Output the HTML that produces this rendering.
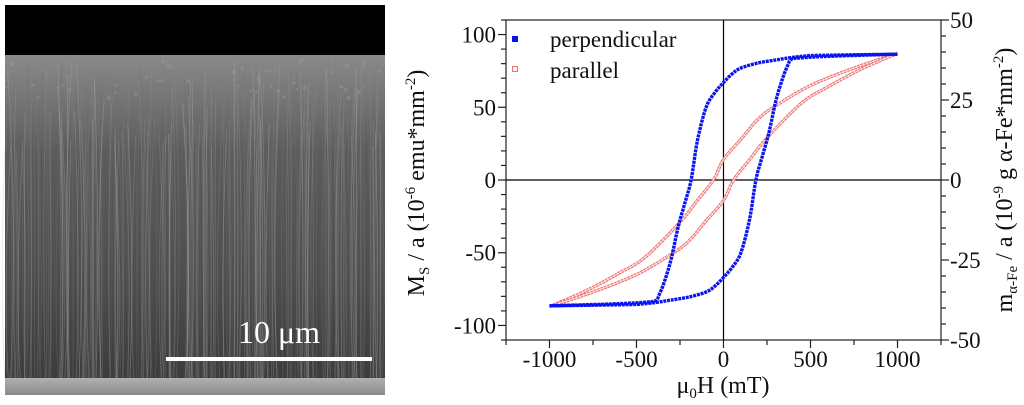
<!DOCTYPE html>
<html><head><meta charset="utf-8">
<style>
html,body{margin:0;padding:0;background:#fff;}
body{width:1024px;height:405px;overflow:hidden;position:relative;}
svg{position:absolute;left:0;top:0;}
text{font-family:"Liberation Serif",serif;fill:#111;}
</style></head>
<body>
<svg id="sem" width="1024" height="405" viewBox="0 0 1024 405">
  <defs>
    <linearGradient id="bodyGrad" x1="0" y1="0" x2="0" y2="1">
      <stop offset="0" stop-color="#8a8a8a"/>
      <stop offset="0.1" stop-color="#7a7a7a"/>
      <stop offset="0.3" stop-color="#5c5c5c"/>
      <stop offset="0.7" stop-color="#4e4e4e"/>
      <stop offset="1" stop-color="#3c3c3c"/>
    </linearGradient>
    <linearGradient id="subGrad" x1="0" y1="0" x2="0" y2="1">
      <stop offset="0" stop-color="#b0b0b0"/>
      <stop offset="1" stop-color="#8a8a8a"/>
    </linearGradient>
  </defs>
  <rect x="5" y="5" width="380" height="390" fill="#000"/>
  <rect x="5" y="55" width="380" height="323" fill="url(#bodyGrad)"/>
  <g id="fibers"></g>
  <rect x="5" y="378" width="380" height="17" fill="url(#subGrad)"/>
  <rect x="166" y="357" width="206" height="4" fill="#fff"/>
  <text x="279" y="343" text-anchor="middle" font-size="32" style="fill:#fff">10 μm</text>
</svg>

<svg id="chart" width="1024" height="405" viewBox="0 0 1024 405"></svg>

<script>
// ---- chart data ----
const xTicks = [-1000, -500, 0, 500, 1000];
const yLeftTicks = [-100, -50, 0, 50, 100];
const yRightTicks = [-50, -25, 0, 25, 50];
const perpH = [1000,700,500,380,300,200,100,50,0,-50,-100,-150,-186,-220,-260,-300,-340,-370,-390,-450,-600,-800,-1000];
const perpM = [86.5,86,85.5,84,82.5,80.5,77,73,67,60,50,27,0,-15,-32,-54,-70,-79,-83,-84,-85,-85.8,-86.5];
const parH = [1000,750,500,300,200,100,0,-58,-150,-250,-450,-600,-770,-900,-1000];
const parM = [87,77,65,51,42,28,14,0,-14,-29,-53,-64,-75,-82,-87];

// ---- SEM texture (decorative) ----
(function(){
  const g = document.getElementById('fibers');
  let s = 12345;
  function rnd(){ s = (s*1103515245 + 12345) % 2147483648; return s/2147483648; }
  let html = '';
  for (let i=0;i<260;i++){
    const x = 6 + rnd()*378;
    const y0 = 60 + rnd()*90;
    const dx = (rnd()-0.5)*20;
    const c = 110 + Math.floor(rnd()*70);
    const op = (0.2 + rnd()*0.3).toFixed(2);
    html += `<path d="M${x.toFixed(1)} ${y0.toFixed(1)} Q ${(x+dx).toFixed(1)} ${(y0+150).toFixed(1)} ${(x+dx*0.3).toFixed(1)} 378" stroke="rgb(${c},${c},${c})" stroke-opacity="${op}" stroke-width="0.8" fill="none"/>`;
  }
  for (let i=0;i<60;i++){
    const x = 6 + rnd()*378, y = 58 + rnd()*40;
    html += `<circle cx="${x.toFixed(1)}" cy="${y.toFixed(1)}" r="${(0.8+rnd()*1.5).toFixed(1)}" fill="#a0a0a0" fill-opacity="0.35"/>`;
  }
  g.innerHTML = html;
})();

// ---- chart drawing ----
const svg = document.getElementById('chart');
const NS = 'http://www.w3.org/2000/svg';
const L = 506, R = 941, T = 20, B = 340;
const sx = v => L + (v + 1250) / 2500 * (R - L);
const syL = v => T + (110 - v) / 220 * (B - T);
const syR = v => T + (50 - v) / 100 * (B - T);
function el(tag, attrs, parent){
  const e = document.createElementNS(NS, tag);
  for (const k in attrs) e.setAttribute(k, attrs[k]);
  (parent||svg).appendChild(e);
  return e;
}

const frame = el('rect', {x:L, y:T, width:R-L, height:B-T, fill:'none', stroke:'#222', 'stroke-width':1.2});



const zx = el('line', {x1:sx(0), x2:sx(0), y1:T, y2:B, stroke:'#000', 'stroke-width':1.2});


const zy = el('line', {x1:L, x2:R, y1:syL(0), y2:syL(0), stroke:'#000', 'stroke-width':1.2});



for (let v=-1250; v<=1250; v+=250){
  const major = xTicks.includes(v);
  el('line', {x1:sx(v), x2:sx(v), y1:B, y2:B+(major?8:5), stroke:'#222', 'stroke-width':1.2});
}
xTicks.forEach(v=>{
  const t = el('text', {x:sx(v), y:367, 'text-anchor':'middle', 'font-size':23});
  t.textContent = v;
  
  
});
for (let v=-110; v<=110; v+=10){
  const major = yLeftTicks.includes(v);
  el('line', {x1:L-(major?8:5), x2:L, y1:syL(v), y2:syL(v), stroke:'#222', 'stroke-width':1.2});
}
yLeftTicks.forEach(v=>{
  const t = el('text', {x:496, y:syL(v)+8, 'text-anchor':'end', 'font-size':23});
  t.textContent = v;
  
  
});
for (let v=-50; v<=50; v+=5){
  const major = yRightTicks.includes(v);
  el('line', {x1:R, x2:R+(major?8:5), y1:syR(v), y2:syR(v), stroke:'#222', 'stroke-width':1.2});
}
yRightTicks.forEach(v=>{
  const t = el('text', {x:950, y:syR(v)+8, 'text-anchor':'start', 'font-size':23});
  t.textContent = v;
  
  
});

// smooth path through points (Catmull-Rom)
function smoothPath(H, M, sign){
  const p = H.map((h,i)=>[sx(sign*h), syL(sign*M[i])]);
  let d = 'M' + p[0][0].toFixed(1) + ',' + p[0][1].toFixed(1);
  for (let i=0;i<p.length-1;i++){
    const p0 = p[Math.max(0,i-1)], p1 = p[i], p2 = p[i+1], p3 = p[Math.min(p.length-1,i+2)];
    const c1 = [p1[0]+(p2[0]-p0[0])/6, p1[1]+(p2[1]-p0[1])/6];
    const c2 = [p2[0]-(p3[0]-p1[0])/6, p2[1]-(p3[1]-p1[1])/6];
    d += ` C${c1[0].toFixed(1)},${c1[1].toFixed(1)} ${c2[0].toFixed(1)},${c2[1].toFixed(1)} ${p2[0].toFixed(1)},${p2[1].toFixed(1)}`;
  }
  return d;
}
function drawLoop(H, M, name, color, hollow){
  [1,-1].forEach((sg, bi)=>{
    const p = el('path', {d:smoothPath(H,M,sg), fill:'none', stroke:color, 'stroke-width':hollow?3.2:3.4, 'stroke-linejoin':'round', 'stroke-dasharray': hollow?'3 0.6':'3 0.8'});
    
    
    if (hollow){
      el('path', {d:smoothPath(H,M,sg), fill:'none', stroke:'#fff', 'stroke-width':1, 'stroke-opacity':0.8});
    }
  });
}
drawLoop(parH, parM, 'parallel-series', '#f07070', true);
drawLoop(perpH, perpM, 'perpendicular-series', '#0a14f0', false);

const lg = el('g', {});


const m1 = el('rect', {x:512, y:36, width:6, height:6, fill:'#0a14f0'}, lg);


const t1 = el('text', {x:550, y:47, 'font-size':23}, lg);
t1.textContent = 'perpendicular';


const m2 = el('rect', {x:512.5, y:66.5, width:5, height:5, fill:'none', stroke:'#f07070', 'stroke-width':1}, lg);


const t2 = el('text', {x:550, y:78, 'font-size':23}, lg);
t2.textContent = 'parallel';


</script>

<svg width="1024" height="405" viewBox="0 0 1024 405" style="pointer-events:none">
  <text x="723" y="393" text-anchor="middle" font-size="24">μ<tspan font-size="15" dy="5">0</tspan><tspan dy="-5">H (mT)</tspan></text>
  <text transform="translate(424,183) rotate(-90)" text-anchor="middle" font-size="24">M<tspan font-size="15" dy="5">S</tspan><tspan dy="-5"> / a (10</tspan><tspan font-size="15" dy="-9">-6</tspan><tspan dy="9"> emu*mm</tspan><tspan font-size="15" dy="-9">-2</tspan><tspan dy="9">)</tspan></text>
  <text transform="translate(1012,180) rotate(-90)" text-anchor="middle" font-size="24">m<tspan font-size="15" dy="5">α-Fe</tspan><tspan dy="-5"> / a (10</tspan><tspan font-size="15" dy="-9">-9</tspan><tspan dy="9"> g α-Fe*mm</tspan><tspan font-size="15" dy="-9">-2</tspan><tspan dy="9">)</tspan></text>
</svg>
</body></html>
